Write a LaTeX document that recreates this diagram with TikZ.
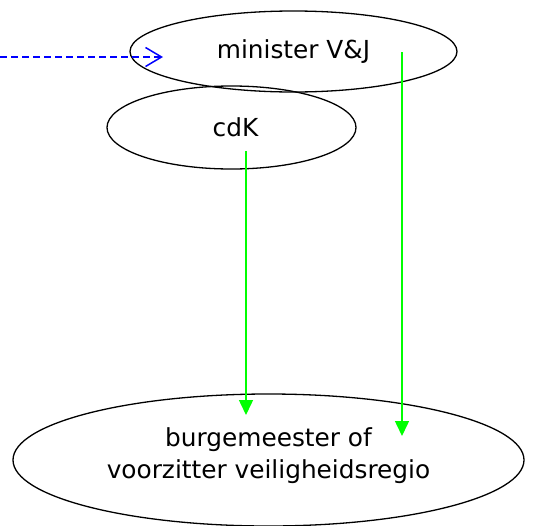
\documentclass[tikz,border=0pt]{standalone}
\usepackage{fontspec}
\setmainfont{DejaVu Sans}
\usetikzlibrary{shapes.geometric,arrows.meta}
\definecolor{lgreen}{RGB}{0,255,0}
\definecolor{lblue}{RGB}{0,0,255}
\begin{document}
\begin{tikzpicture}[x=1pt,y=1pt,
  ell/.style={draw=black,line width=1.3pt,ellipse,inner sep=0pt,align=center,
    font=\fontsize{24.8}{32}\selectfont},
  garrow/.style={draw=lgreen,line width=1.5pt,-{Triangle[length=15pt,width=14pt]}},
  barrow/.style={draw=lblue,line width=1.5pt,dash pattern=on 7pt off 4pt,
    -{Straight Barb[length=16pt,width=19pt]}}]
\useasboundingbox (0,0) rectangle (538,-525);
\node[ell,minimum width=327pt,minimum height=81pt] (min) at (293.5,-51.5) {minister V\&J};
\node[ell,minimum width=249pt,minimum height=83pt] (cdk) at (231.5,-127.5) {\hspace*{8pt}cdK};
\node[ell,minimum width=511pt,minimum height=132pt,text depth=14pt] (bur) at (268.5,-460)
  {burgemeester of\\voorzitter veiligheidsregio};
\coordinate (src) at (0,-57);
\coordinate (minin) at (163,-57);
\coordinate (cdks) at (246,-151);
\coordinate (bt1) at (246,-415);
\coordinate (mins) at (402,-52);
\coordinate (bt2) at (402,-436);
\draw[barrow] (src) -- (minin);
\draw[garrow] (cdks) -- (bt1);
\draw[garrow] (mins) -- (bt2);
\end{tikzpicture}
\end{document}
